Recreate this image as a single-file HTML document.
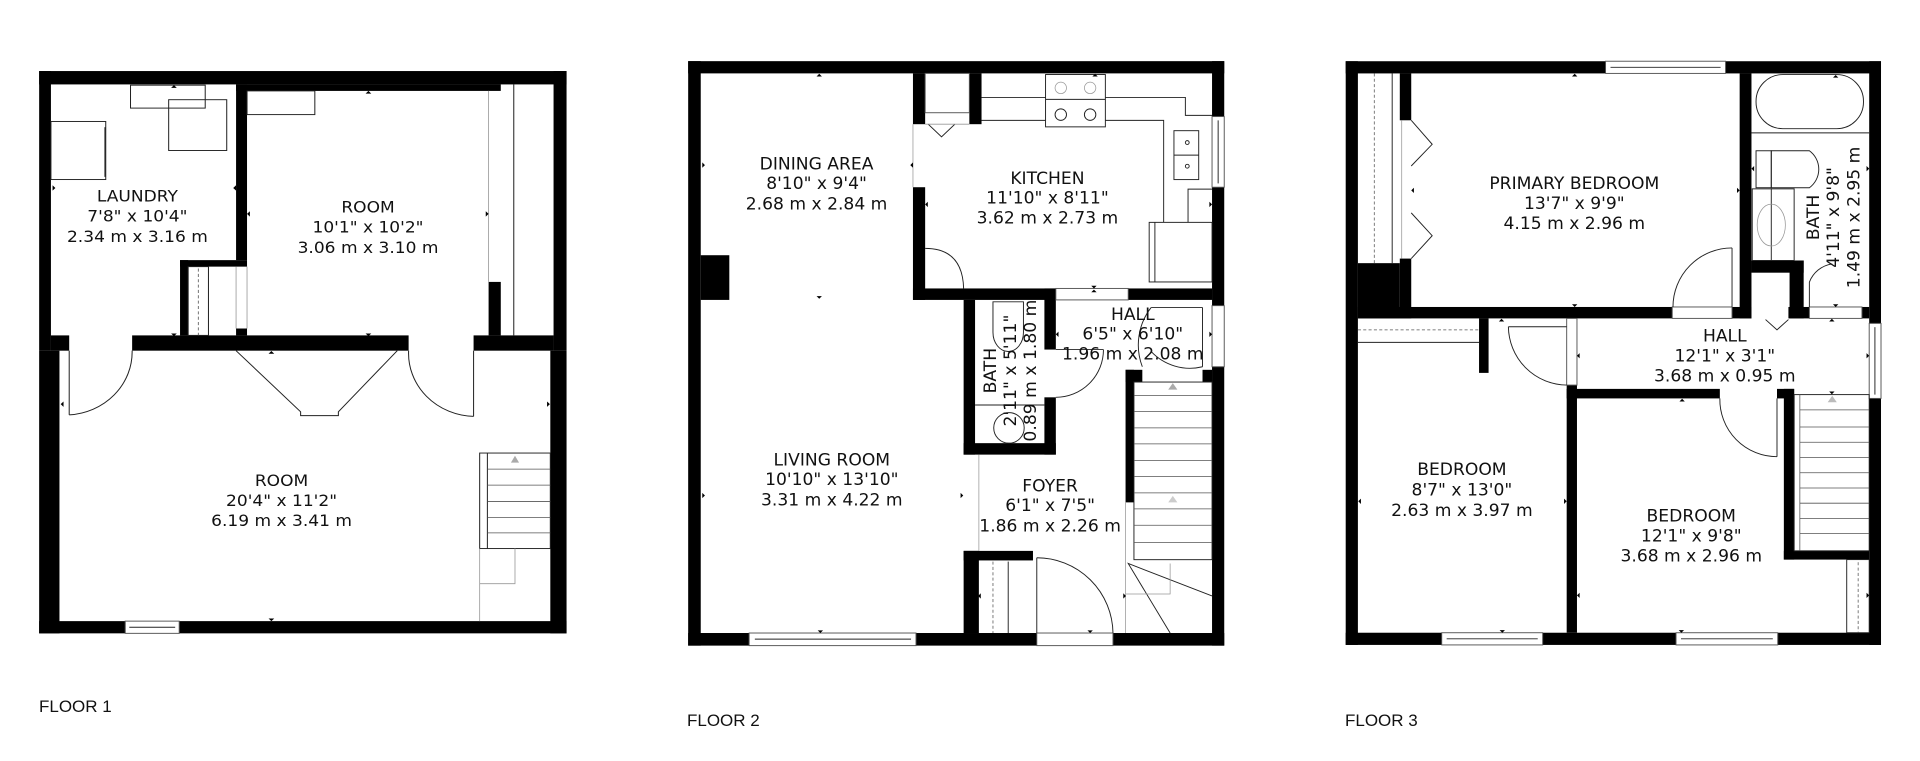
<!DOCTYPE html>
<html><head><meta charset="utf-8"><style>
html,body{margin:0;padding:0;background:#fff;width:1920px;height:761px;overflow:hidden}
svg{display:block}
text{font-family:"DejaVu Sans","Liberation Sans",sans-serif;fill:#111}
.l{font-size:45px;text-anchor:middle;dominant-baseline:central}
.l1{font-size:42px;text-anchor:middle;dominant-baseline:central}
.f{font-size:17px;font-family:"Liberation Sans",sans-serif}
.t{fill:none;stroke:#222;stroke-width:2.5}
.g{fill:none;stroke:#999;stroke-width:2}
.w{fill:#fff;stroke:#555;stroke-width:2.5}
.d{fill:none;stroke:#555;stroke-width:2;stroke-dasharray:8 6}
</style></head><body>
<svg width="1920" height="761" viewBox="0 0 1920 761" xmlns="http://www.w3.org/2000/svg">
<rect width="1920" height="761" fill="#fff"/>

<!-- FLOOR 1 -->
<g transform="translate(1.4,50.8) scale(0.406,0.382)">
<g fill="#000">
<rect x="93" y="53" width="1299" height="35"/>
<rect x="578" y="88" width="652" height="17"/>
<rect x="93" y="53" width="29" height="732"/>
<rect x="93" y="785" width="50" height="740"/>
<rect x="1360" y="53" width="32" height="732"/>
<rect x="1352" y="785" width="40" height="740"/>
<rect x="93" y="1493" width="1299" height="32"/>
<rect x="122" y="745" width="45" height="40"/>
<rect x="322" y="745" width="681" height="40"/>
<rect x="1163" y="745" width="197" height="40"/>
<rect x="578" y="88" width="27" height="460"/>
<rect x="440" y="548" width="165" height="17"/>
<rect x="440" y="548" width="20" height="197"/>
<rect x="578" y="727" width="27" height="18"/>
<rect x="1200" y="605" width="30" height="140"/>
</g>
<line class="g" x1="1200" y1="105" x2="1200" y2="605"/>
<line class="t" x1="1262" y1="88" x2="1262" y2="745"/>
<line class="g" x1="578" y1="565" x2="578" y2="727"/>
<line class="g" x1="605" y1="565" x2="605" y2="727"/>
<rect class="w" x="305" y="1493" width="133" height="32"/>
<line class="t" x1="315" y1="1509" x2="428" y2="1509"/>
<rect class="t" x="318" y="90" width="184" height="60"/>
<rect class="t" x="412" y="128" width="143" height="133"/>
<rect class="t" x="122" y="185" width="135" height="152"/>
<line class="t" x1="255" y1="200" x2="255" y2="330"/>
<rect class="t" x="605" y="105" width="167" height="62"/>
<rect class="t" x="460" y="565" width="50" height="180"/>
<line class="d" x1="485" y1="570" x2="485" y2="745"/>
<line class="t" x1="167" y1="785" x2="167" y2="953"/>
<path class="t" d="M322,785 A165,165 0 0 1 167,953"/>
<line class="t" x1="1163" y1="785" x2="1163" y2="957"/>
<path class="t" d="M1003,785 A165,165 0 0 0 1163,957"/>
<polyline class="t" points="578,785 737,945 737,955 830,955 830,945 975,785"/>
<rect class="t" x="1178" y="1053" width="174" height="250"/>
<line class="t" x1="1197" y1="1053" x2="1197" y2="1303"/>
<g stroke="#555" stroke-width="2"><line x1="1197" y1="1095" x2="1352" y2="1095"/><line x1="1197" y1="1137" x2="1352" y2="1137"/><line x1="1197" y1="1180" x2="1352" y2="1180"/><line x1="1197" y1="1222" x2="1352" y2="1222"/><line x1="1197" y1="1262" x2="1352" y2="1262"/></g>
<polygon points="1255,1078 1265,1060 1275,1078" fill="#aaa"/>
<polyline class="g" points="1178,1303 1178,1493"/><polyline class="g" points="1265,1303 1265,1395 1178,1395"/>
<g fill="#000"><polygon points="418,97 432,97 425,90"/><polygon points="897,112 911,112 904,105"/><polygon points="418,740 432,740 425,747"/><polygon points="897,740 911,740 904,747"/><polygon points="658,793 672,793 665,786"/><polygon points="658,1486 672,1486 665,1493"/><polygon points="126,352 126,366 133,359"/><polygon points="578,352 578,366 571,359"/><polygon points="612,420 612,434 605,427"/><polygon points="1193,420 1193,434 1200,427"/><polygon points="153,918 153,932 146,925"/><polygon points="1344,918 1344,932 1351,925"/></g>
<text class="l1" x="335" y="380">LAUNDRY</text><text class="l1" x="335" y="433">7'8" x 10'4"</text><text class="l1" x="335" y="486">2.34 m x 3.16 m</text>
<text class="l1" x="903" y="410">ROOM</text><text class="l1" x="903" y="462">10'1" x 10'2"</text><text class="l1" x="903" y="515">3.06 m x 3.10 m</text>
<text class="l1" x="690" y="1125">ROOM</text><text class="l1" x="690" y="1178">20'4" x 11'2"</text><text class="l1" x="690" y="1230">6.19 m x 3.41 m</text>
</g>

<!-- FLOOR 2 -->
<g transform="translate(661.5,49.7) scale(0.381,0.382)">
<g fill="#000">
<rect x="70" y="30" width="1407" height="32"/>
<rect x="70" y="30" width="33" height="1530"/>
<rect x="1445" y="30" width="32" height="1530"/>
<rect x="70" y="1527" width="1407" height="33"/>
<rect x="660" y="62" width="32" height="133"/>
<rect x="808" y="62" width="32" height="133"/>
<rect x="660" y="360" width="32" height="295"/>
<rect x="660" y="625" width="375" height="30"/>
<rect x="1225" y="625" width="220" height="30"/>
<rect x="793" y="655" width="30" height="405"/>
<rect x="793" y="1030" width="242" height="30"/>
<rect x="1005" y="625" width="30" height="160"/>
<rect x="1005" y="910" width="30" height="150"/>
<rect x="103" y="538" width="75" height="117"/>
<rect x="793" y="1312" width="40" height="215"/>
<rect x="793" y="1312" width="182" height="25"/>
<rect x="1218" y="838" width="22" height="347"/>
<rect x="1218" y="838" width="44" height="32"/>
<rect x="1420" y="838" width="25" height="32"/>
</g>
<rect class="w" x="692" y="62" width="116" height="103"/>
<polyline class="t" points="700,195 735,228 770,195"/>
<line class="g" x1="692" y1="195" x2="808" y2="195"/>
<line class="g" x1="660" y1="195" x2="660" y2="360"/>
<rect class="w" x="230" y="1527" width="438" height="33"/>
<line class="t" x1="245" y1="1543" x2="655" y2="1543"/>
<rect class="w" x="985" y="1527" width="200" height="33"/>
<rect class="w" x="1445" y="175" width="32" height="185"/>
<line class="t" x1="1461" y1="185" x2="1461" y2="350"/>
<rect class="w" x="1445" y="670" width="32" height="160"/>
<rect class="w" x="1035" y="625" width="190" height="30"/>
<rect class="t" x="1008" y="65" width="157" height="137"/>
<line class="t" x1="1008" y1="130" x2="1165" y2="130"/>
<g fill="none" stroke="#999" stroke-width="2"><circle cx="1048" cy="100" r="15"/><circle cx="1125" cy="100" r="15"/></g>
<g class="t"><circle cx="1048" cy="170" r="15"/><circle cx="1125" cy="170" r="15"/></g>
<polyline class="t" points="840,125 1008,125"/><polyline class="t" points="1165,125 1375,125 1375,172 1445,172"/>
<polyline class="t" points="840,185 1008,185"/><polyline class="t" points="1165,185 1318,185 1318,452"/>
<rect class="t" x="1280" y="452" width="165" height="156"/>
<line class="t" x1="1295" y1="452" x2="1295" y2="608"/>
<polyline class="t" points="1382,452 1382,365 1445,365"/>
<rect class="t" x="1345" y="212" width="65" height="128"/>
<line class="t" x1="1345" y1="276" x2="1410" y2="276"/>
<g class="t"><circle cx="1380" cy="243" r="5"/><circle cx="1380" cy="305" r="5"/></g>
<path class="t" d="M692,520 Q790,520 793,625"/>
<path class="t" d="M870,660 L950,660 L950,740 A40,50 0 0 1 870,740 Z"/>
<line class="t" x1="823" y1="930" x2="1005" y2="930"/>
<circle class="t" cx="912" cy="990" r="40"/>
<line class="t" x1="1035" y1="785" x2="1160" y2="785"/>
<path class="t" d="M1035,910 A125,125 0 0 0 1160,785"/>
<line class="t" x1="1420" y1="675" x2="1420" y2="830"/>
<line class="t" x1="1285" y1="675" x2="1420" y2="675"/>
<path class="t" d="M1262,830 A160,160 0 0 1 1285,675"/>
<path class="t" d="M1285,790 A140,140 0 0 0 1420,830"/>
<line class="t" x1="985" y1="1330" x2="985" y2="1527"/>
<path class="t" d="M985,1330 A200,200 0 0 1 1185,1527"/>
<line class="d" x1="870" y1="1340" x2="870" y2="1527"/>
<line class="t" x1="910" y1="1340" x2="910" y2="1527"/>
<line class="g" x1="833" y1="1060" x2="833" y2="1312"/>
<rect class="t" x="1240" y="870" width="205" height="465"/>
<g stroke="#555" stroke-width="2"><line x1="1240" y1="905" x2="1445" y2="905"/><line x1="1240" y1="947" x2="1445" y2="947"/><line x1="1240" y1="990" x2="1445" y2="990"/><line x1="1240" y1="1032" x2="1445" y2="1032"/><line x1="1240" y1="1075" x2="1445" y2="1075"/><line x1="1240" y1="1117" x2="1445" y2="1117"/><line x1="1240" y1="1160" x2="1445" y2="1160"/><line x1="1240" y1="1202" x2="1445" y2="1202"/><line x1="1240" y1="1245" x2="1445" y2="1245"/><line x1="1240" y1="1290" x2="1445" y2="1290"/></g>
<polygon points="1330,890 1342,873 1354,890" fill="#aaa"/><polygon points="1330,1185 1342,1168 1354,1185" fill="#ccc"/>
<line class="g" x1="1218" y1="1185" x2="1218" y2="1527"/>
<polyline class="t" points="1335,1527 1225,1345 1445,1430"/>
<polyline class="g" points="1218,1425 1335,1425 1335,1345"/>
<g fill="#000"><polygon points="407,70 421,70 414,63"/><polygon points="1131,70 1145,70 1138,63"/><polygon points="107,295 107,309 114,302"/><polygon points="660,295 660,309 653,302"/><polygon points="699,398 699,412 692,405"/><polygon points="1438,398 1438,412 1445,405"/><polygon points="407,645 421,645 414,652"/><polygon points="1128,618 1142,618 1135,625"/><polygon points="1128,635 1142,635 1135,628"/><polygon points="107,1160 107,1174 114,1167"/><polygon points="785,1160 785,1174 792,1167"/><polygon points="1042,738 1042,752 1035,745"/><polygon points="1438,738 1438,752 1445,745"/><polygon points="410,1520 424,1520 417,1527"/><polygon points="1118,1520 1132,1520 1125,1527"/><polygon points="838,1423 838,1437 831,1430"/><polygon points="1212,1423 1212,1437 1219,1430"/></g>
<text class="l" x="407" y="300">DINING AREA</text><text class="l" x="407" y="352">8'10" x 9'4"</text><text class="l" x="407" y="405">2.68 m x 2.84 m</text>
<text class="l" x="1013" y="338">KITCHEN</text><text class="l" x="1013" y="390">11'10" x 8'11"</text><text class="l" x="1013" y="442">3.62 m x 2.73 m</text>
<text class="l" x="1237" y="695">HALL</text><text class="l" x="1237" y="745">6'5" x 6'10"</text><text class="l" x="1237" y="798">1.96 m x 2.08 m</text>
<text class="l" transform="translate(865,840) rotate(-90)">BATH</text>
<text class="l" transform="translate(917,840) rotate(-90)">2'11" x 5'11"</text>
<text class="l" transform="translate(970,840) rotate(-90)">0.89 m x 1.80 m</text>
<text class="l" x="447" y="1075">LIVING ROOM</text><text class="l" x="447" y="1127">10'10" x 13'10"</text><text class="l" x="447" y="1180">3.31 m x 4.22 m</text>
<text class="l" x="1020" y="1143">FOYER</text><text class="l" x="1020" y="1195">6'1" x 7'5"</text><text class="l" x="1020" y="1248">1.86 m x 2.26 m</text>
</g>

<!-- FLOOR 3 -->
<g transform="translate(1321.7,49.8) scale(0.381,0.381)">
<g fill="#000">
<rect x="63" y="30" width="1405" height="32"/>
<rect x="63" y="30" width="32" height="1532"/>
<rect x="1437" y="30" width="31" height="1532"/>
<rect x="63" y="1530" width="1405" height="32"/>
<rect x="1097" y="62" width="31" height="643"/>
<rect x="95" y="675" width="825" height="30"/>
<rect x="1077" y="675" width="51" height="30"/>
<rect x="1225" y="675" width="55" height="30"/>
<rect x="1418" y="675" width="19" height="30"/>
<rect x="1128" y="553" width="137" height="32"/>
<rect x="1228" y="553" width="37" height="152"/>
<rect x="95" y="560" width="110" height="145"/>
<rect x="205" y="62" width="30" height="123"/>
<rect x="205" y="548" width="30" height="157"/>
<rect x="413" y="705" width="25" height="143"/>
<rect x="643" y="880" width="27" height="650"/>
<rect x="643" y="890" width="402" height="25"/>
<rect x="1195" y="890" width="45" height="25"/>
<rect x="1213" y="890" width="27" height="448"/>
<rect x="1213" y="1315" width="224" height="23"/>
</g>
<rect class="w" x="745" y="30" width="315" height="32"/><line class="t" x1="758" y1="46" x2="1047" y2="46"/>
<rect class="w" x="315" y="1530" width="265" height="32"/><line class="t" x1="328" y1="1546" x2="567" y2="1546"/>
<rect class="w" x="930" y="1530" width="267" height="32"/><line class="t" x1="943" y1="1546" x2="1184" y2="1546"/>
<rect class="w" x="1437" y="718" width="31" height="197"/><line class="t" x1="1452" y1="728" x2="1452" y2="905"/>
<rect class="w" x="920" y="675" width="157" height="30"/>
<rect class="w" x="1280" y="675" width="138" height="30"/>
<rect class="w" x="643" y="705" width="27" height="175"/>
<line class="d" x1="138" y1="62" x2="138" y2="560"/>
<line class="t" x1="185" y1="62" x2="185" y2="560"/>
<line class="g" x1="210" y1="185" x2="210" y2="548"/>
<polyline class="t" points="235,185 290,248 235,305"/>
<polyline class="t" points="235,428 290,488 235,548"/>
<rect class="t" x="1140" y="65" width="282" height="142" rx="70"/>
<line class="t" x1="1128" y1="218" x2="1437" y2="218"/>
<path class="t" d="M1180,265 L1280,265 A60,60 0 0 1 1280,362 L1180,362 Z"/>
<rect class="t" x="1140" y="265" width="40" height="97"/>
<rect class="t" x="1130" y="365" width="110" height="188"/>
<line class="t" x1="1180" y1="365" x2="1180" y2="553"/>
<ellipse class="g" cx="1180" cy="460" rx="37" ry="55"/>
<line class="d" x1="95" y1="735" x2="413" y2="735"/>
<line class="t" x1="95" y1="768" x2="413" y2="768"/>
<line class="t" x1="1077" y1="520" x2="1077" y2="675"/>
<path class="t" d="M1077,520 A155,155 0 0 0 922,675"/>
<path class="t" d="M1280,675 L1280,610 A75,75 0 0 1 1340,562"/>
<line class="t" x1="490" y1="727" x2="643" y2="727"/>
<path class="t" d="M490,727 A155,155 0 0 0 643,880"/>
<line class="t" x1="1195" y1="915" x2="1195" y2="1068"/>
<path class="t" d="M1045,915 A150,150 0 0 0 1195,1068"/>
<polyline class="t" points="1165,708 1195,735 1225,708"/>
<rect class="t" x="1240" y="905" width="197" height="410"/>
<g stroke="#555" stroke-width="2"><line x1="1255" y1="945" x2="1437" y2="945"/><line x1="1255" y1="990" x2="1437" y2="990"/><line x1="1255" y1="1030" x2="1437" y2="1030"/><line x1="1255" y1="1070" x2="1437" y2="1070"/><line x1="1255" y1="1110" x2="1437" y2="1110"/><line x1="1255" y1="1150" x2="1437" y2="1150"/><line x1="1255" y1="1190" x2="1437" y2="1190"/><line x1="1255" y1="1230" x2="1437" y2="1230"/><line x1="1255" y1="1270" x2="1437" y2="1270"/><line x1="1255" y1="905" x2="1255" y2="1315"/></g>
<polygon points="1328,925 1340,908 1352,925" fill="#bbb"/>
<rect class="t" x="1378" y="1338" width="59" height="192"/>
<line class="d" x1="1408" y1="1345" x2="1408" y2="1530"/>
<g fill="#000"><polygon points="657,70 671,70 664,63"/><polygon points="657,668 671,668 664,675"/><polygon points="1342,73 1356,73 1349,66"/><polygon points="1342,668 1356,668 1349,675"/><polygon points="242,362 242,376 235,369"/><polygon points="1090,362 1090,376 1097,369"/><polygon points="465,713 479,713 472,706"/><polygon points="1332,713 1346,713 1339,706"/><polygon points="1332,897 1346,897 1339,904"/><polygon points="939,923 953,923 946,916"/><polygon points="467,1523 481,1523 474,1530"/><polygon points="937,1523 951,1523 944,1530"/><polygon points="103,1178 103,1192 96,1185"/><polygon points="636,1178 636,1192 643,1185"/><polygon points="677,1425 677,1439 670,1432"/><polygon points="1430,1425 1430,1439 1437,1432"/><polygon points="677,796 677,810 670,803"/><polygon points="1430,796 1430,810 1437,803"/><polygon points="1430,305 1430,319 1437,312"/><polygon points="1135,305 1135,319 1128,312"/></g>
<text class="l" x="663" y="352">PRIMARY BEDROOM</text><text class="l" x="663" y="405">13'7" x 9'9"</text><text class="l" x="663" y="457">4.15 m x 2.96 m</text>
<text class="l" x="368" y="1103">BEDROOM</text><text class="l" x="368" y="1157">8'7" x 13'0"</text><text class="l" x="368" y="1210">2.63 m x 3.97 m</text>
<text class="l" x="970" y="1225">BEDROOM</text><text class="l" x="970" y="1277">12'1" x 9'8"</text><text class="l" x="970" y="1330">3.68 m x 2.96 m</text>
<text class="l" x="1058" y="752">HALL</text><text class="l" x="1058" y="805">12'1" x 3'1"</text><text class="l" x="1058" y="857">3.68 m x 0.95 m</text>
<text class="l" transform="translate(1292,440) rotate(-90)">BATH</text>
<text class="l" transform="translate(1345,440) rotate(-90)">4'11" x 9'8"</text>
<text class="l" transform="translate(1398,440) rotate(-90)">1.49 m x 2.95 m</text>
</g>

<text class="f" x="39" y="712">FLOOR 1</text>
<text class="f" x="687" y="726">FLOOR 2</text>
<text class="f" x="1345" y="726">FLOOR 3</text>
</svg>
</body></html>
